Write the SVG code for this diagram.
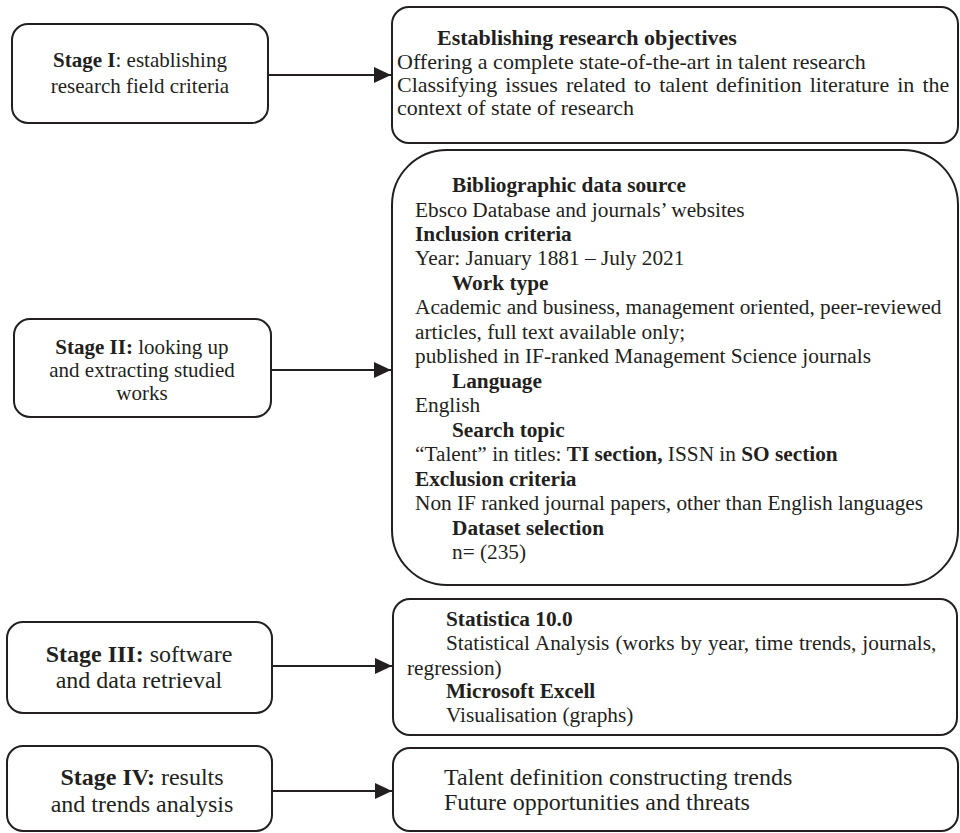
<svg xmlns="http://www.w3.org/2000/svg" width="960" height="833" viewBox="0 0 960 833">
<defs>
<style>
.box{fill:#fff;stroke:#231f20;stroke-width:2}
.t{font-family:"Liberation Serif","Times New Roman",serif;fill:#231f20}
.s21{font-size:21px}
.s22{font-size:22px}
.s213{font-size:21.3px}
.s24{font-size:24px}
.c{text-anchor:middle}
.b{font-weight:bold}
.edge{stroke:#231f20;stroke-width:2;fill:none}
</style>
<marker id="arr" markerUnits="userSpaceOnUse" markerWidth="18" markerHeight="16" refX="17" refY="8" orient="auto">
<path d="M0,0 L17,8 L0,16 Z" fill="#231f20"/>
</marker>
</defs>
<rect width="960" height="833" fill="#fff"/>

<g id="connectors">
<line class="edge" x1="268" y1="75" x2="391" y2="75" marker-end="url(#arr)"/>
<line class="edge" x1="271" y1="370" x2="391" y2="370" marker-end="url(#arr)"/>
<line class="edge" x1="272" y1="666" x2="392" y2="666" marker-end="url(#arr)"/>
<line class="edge" x1="272" y1="791" x2="392" y2="791" marker-end="url(#arr)"/>
</g>

<g id="stage1">
<rect class="box" x="12" y="24" width="256" height="99" rx="16"/>
<text class="t s21 c" x="140" y="67"><tspan class="b">Stage I</tspan>: establishing</text>
<text class="t s21 c" x="140" y="93">research field criteria</text>
</g>

<g id="objectives">
<rect class="box" x="392" y="7" width="566" height="136" rx="17"/>
<text class="t s22 b" x="437" y="45">Establishing research objectives</text>
<text class="t s22" x="397" y="69">Offering a complete state-of-the-art in talent research</text>
<text class="t s22" x="397" y="92" word-spacing="2.6">Classifying issues related to talent definition literature in the</text>
<text class="t s22" x="397" y="115">context of state of research</text>
</g>

<g id="stage2">
<rect class="box" x="14" y="319" width="257" height="98" rx="16"/>
<text class="t s21 c" x="142" y="354"><tspan class="b">Stage II:</tspan> looking up</text>
<text class="t s21 c" x="142" y="377">and extracting studied</text>
<text class="t s21 c" x="142" y="400">works</text>
</g>

<g id="datasource">
<rect class="box" x="392" y="150" width="566" height="435" rx="55"/>
<text class="t s213 b" x="452" y="192">Bibliographic data source</text>
<text class="t s213" x="415" y="216.5">Ebsco Database and journals’ websites</text>
<text class="t s213 b" x="415" y="241">Inclusion criteria</text>
<text class="t s213" x="415" y="265.4">Year: January 1881 – July 2021</text>
<text class="t s213 b" x="452" y="290">Work type</text>
<text class="t s213" x="415" y="314.4">Academic and business, management oriented, peer-reviewed</text>
<text class="t s213" x="415" y="338.8">articles, full text available only;</text>
<text class="t s213" x="415" y="363.3">published in IF-ranked Management Science journals</text>
<text class="t s213 b" x="452" y="387.8">Language</text>
<text class="t s213" x="415" y="412.2">English</text>
<text class="t s213 b" x="452" y="436.7">Search topic</text>
<text class="t s213" x="415" y="461.2">“Talent” in titles: <tspan class="b">TI section,</tspan> ISSN in <tspan class="b">SO section</tspan></text>
<text class="t s213 b" x="415" y="485.6">Exclusion criteria</text>
<text class="t s213" x="415" y="510.1">Non IF ranked journal papers, other than English languages</text>
<text class="t s213 b" x="452" y="534.6">Dataset selection</text>
<text class="t s213" x="452" y="559">n= (235)</text>
</g>

<g id="stage3">
<rect class="box" x="7" y="622" width="265" height="91" rx="16"/>
<text class="t s24 c" x="139" y="662"><tspan class="b">Stage III:</tspan> software</text>
<text class="t s24 c" x="139" y="688">and data retrieval</text>
</g>

<g id="software">
<rect class="box" x="393" y="599" width="564" height="136" rx="17"/>
<text class="t s213 b" x="446" y="626">Statistica 10.0</text>
<text class="t s213" x="446" y="650" word-spacing="0.7">Statistical Analysis (works by year, time trends, journals,</text>
<text class="t s213" x="407" y="675">regression)</text>
<text class="t s213 b" x="446" y="698">Microsoft Excell</text>
<text class="t s213" x="446" y="722">Visualisation (graphs)</text>
</g>

<g id="stage4">
<rect class="box" x="7" y="746" width="265" height="85" rx="16"/>
<text class="t s24 c" x="142" y="785"><tspan class="b">Stage IV:</tspan> results</text>
<text class="t s24 c" x="142" y="812">and trends analysis</text>
</g>

<g id="results">
<rect class="box" x="393" y="748" width="565" height="83" rx="17"/>
<text class="t s24" x="444" y="785">Talent definition constructing trends</text>
<text class="t s24" x="444" y="810">Future opportunities and threats</text>
</g>
</svg>
